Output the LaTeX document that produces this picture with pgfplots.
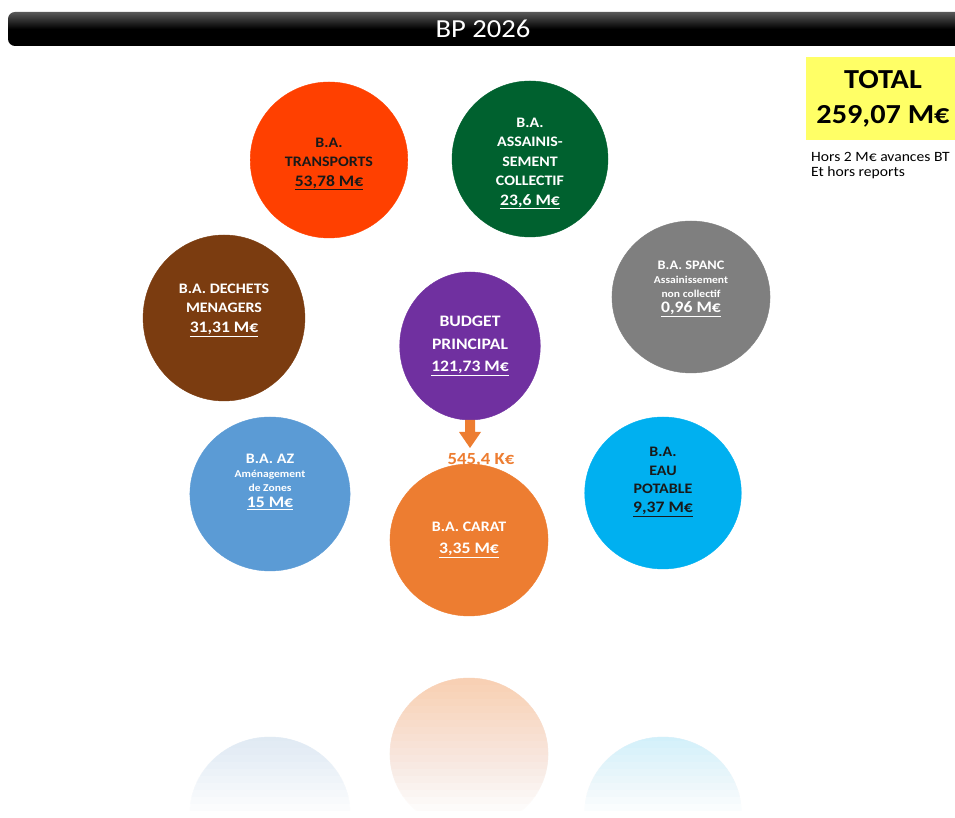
\documentclass[border=0pt]{standalone}
\usepackage{pgfplots}
\pgfplotsset{compat=1.18}
\usepackage{fontspec}
\setmainfont{Carlito}[FakeStretch=1.1]
\definecolor{cTr}{HTML}{FF4000}
\definecolor{cAs}{HTML}{00612F}
\definecolor{cDe}{HTML}{7B3C10}
\definecolor{cSp}{HTML}{7F7F7F}
\definecolor{cBu}{HTML}{7030A0}
\definecolor{cAZ}{HTML}{5B9BD5}
\definecolor{cCa}{HTML}{ED7D31}
\definecolor{cEa}{HTML}{00B0F0}
\definecolor{cYe}{HTML}{FFFF66}
\newcommand{\val}[1]{{\fontsize{16}{20}\selectfont\underline{#1}}}
\newcommand{\sm}{\fontsize{10.5}{14}\selectfont}
\tikzset{lbl/.style={align=center, font=\fontsize{14.5}{19.5}\selectfont\bfseries}}
\begin{document}
\begin{tikzpicture}
\begin{axis}[name=main, width=955pt, height=818pt, scale only axis,
  xmin=0, xmax=955, ymin=0, ymax=818, axis lines=none, clip=true, clip marker paths=true,
  circ/.style={only marks, mark=*, forget plot, nodes near coords align={anchor=center}},
]
% reflections
\addplot[circ, mark size=77, mark options={draw=cAZ!30, fill=cAZ!30, xscale=1.04}] coordinates {(270,4)};
\addplot[circ, mark size=76, mark options={draw=cCa!38, fill=cCa!38, xscale=1.04}] coordinates {(469,64)};
\addplot[circ, mark size=76, mark options={draw=cEa!30, fill=cEa!30, xscale=1.03}] coordinates {(663,5)};
\pgfplotsinvokeforeach{1,...,20}{
  \pgfmathsetmacro\op{1/(21-#1)}
  \edef\tmp{\noexpand\addplot[draw=none, fill=white, fill opacity=\op, forget plot]
    coordinates {(-5,-5) (960,-5) (960,\the\numexpr147-#1*7\relax) (-5,\the\numexpr147-#1*7\relax)} --cycle;}
  \tmp
}
% title bar
\addplot[draw=none, rounded corners=7pt, top color=black!65, bottom color=black, middle color=black, forget plot]
  coordinates {(8,806) (985,806) (985,772) (8,772)} --cycle;
% total box
\addplot[draw=none, fill=cYe, forget plot] coordinates {(806,761) (965,761) (965,678) (806,678)} --cycle;
% circles
\addplot[circ, mark size=78, mark options={draw=cTr, fill=cTr, xscale=1.01},
  nodes near coords={B.A.\\TRANSPORTS\\\val{53,78 M€}},
  every node near coord/.append style={lbl, text=black!90, yshift=-4pt}] coordinates {(329,658)};
\addplot[circ, mark size=78, mark options={draw=cAs, fill=cAs},
  nodes near coords={B.A.\\ASSAINIS-\\SEMENT\\COLLECTIF\\\val{23,6 M€}},
  every node near coord/.append style={lbl, text=white, yshift=-4.5pt}] coordinates {(530,659)};
\addplot[circ, mark size=83, mark options={draw=cDe, fill=cDe, xscale=0.975},
  nodes near coords={B.A. DECHETS\\MENAGERS\\\val{31,31 M€}},
  every node near coord/.append style={lbl, text=white, yshift=8pt}] coordinates {(224,500)};
\addplot[circ, mark size=76, mark options={draw=cSp, fill=cSp, xscale=1.04},
  nodes near coords={{\fontsize{13}{16}\selectfont B.A. SPANC}\\{\sm Assainissement}\\{\sm non collectif}\\[1pt]\val{0,96 M€}},
  every node near coord/.append style={lbl, text=white, yshift=8pt, font=\fontsize{10.5}{14}\selectfont\bfseries}] coordinates {(691,521)};
\addplot[circ, mark size=74, mark options={draw=cBu, fill=cBu, xscale=0.95},
  nodes near coords={BUDGET\\PRINCIPAL\\\val{121,73 M€}},
  every node near coord/.append style={lbl, text=white, yshift=0pt, font=\fontsize{16}{22.5}\selectfont\bfseries}] coordinates {(470,472)};
\addplot[circ, mark size=77, mark options={draw=cAZ, fill=cAZ, xscale=1.04},
  nodes near coords={{\fontsize{14.5}{18}\selectfont B.A. AZ}\\{\sm Aménagement}\\{\sm de Zones}\\[2pt]\val{15 M€}},
  every node near coord/.append style={lbl, text=white, yshift=12pt, font=\fontsize{10.5}{14}\selectfont\bfseries}] coordinates {(270,324)};
\addplot[circ, mark size=76, mark options={draw=cCa, fill=cCa, xscale=1.04},
  nodes near coords={B.A. CARAT\\[3pt]\val{3,35 M€}},
  every node near coord/.append style={lbl, text=white, yshift=0pt}] coordinates {(469,278)};
\addplot[circ, mark size=76, mark options={draw=cEa, fill=cEa, xscale=1.03},
  nodes near coords={B.A.\\EAU\\POTABLE\\\val{9,37 M€}},
  every node near coord/.append style={lbl, text=black!90, yshift=11pt, font=\fontsize{14.5}{18.5}\selectfont\bfseries}] coordinates {(663,325)};
% arrow
\addplot[draw=none, fill=cCa, forget plot] coordinates {(465,398) (475,398) (475,386) (481,386) (470,370) (459,386) (465,386)} --cycle;
% texts
\node[text=white, font=\fontsize{26}{26}\selectfont] at (axis cs:483,789) {BP 2026};
\node[font=\fontsize{27.5}{27.5}\selectfont\bfseries] at (axis cs:883,738) {TOTAL};
\node[font=\fontsize{27.5}{27.5}\selectfont\bfseries] at (axis cs:883,702) {259,07 M€};
\node[anchor=west, font=\fontsize{14.2}{16}\selectfont, inner sep=0pt] at (axis cs:811,661) {Hors 2 M€ avances BT};
\node[anchor=west, font=\fontsize{14.2}{16}\selectfont, inner sep=0pt] at (axis cs:811,645) {Et hors reports};
\node[text=cCa, font=\fontsize{17}{17}\selectfont\bfseries] at (axis cs:481,358) {545,4 K€};
\end{axis}
\pgfresetboundingbox
\path[use as bounding box] (main.south west) rectangle (main.north east);
\end{tikzpicture}
\end{document}
